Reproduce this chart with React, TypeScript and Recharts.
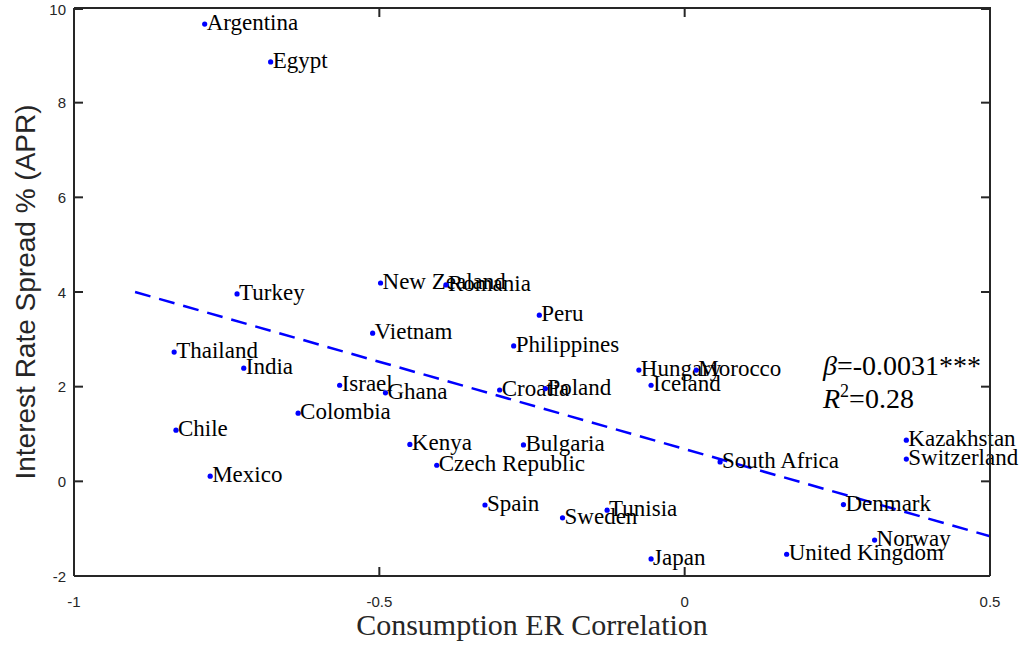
import { ScatterChart, Scatter, XAxis, YAxis } from "recharts";

const countries = [
  "Argentina", "Egypt", "Turkey", "New Zealand", "Romania", "Peru", "Vietnam", "Philippines",
  "Thailand", "India", "Israel", "Ghana", "Croatia", "Poland", "Hungary", "Morocco", "Iceland",
  "Colombia", "Chile", "Kenya", "Czech Republic", "Mexico", "Bulgaria", "South Africa",
  "Kazakhstan", "Switzerland", "Spain", "Sweden", "Tunisia", "Japan", "United Kingdom",
  "Denmark", "Norway",
];
const corr = [
  -0.786, -0.678, -0.733, -0.498, -0.391, -0.238, -0.511, -0.28,
  -0.836, -0.722, -0.565, -0.49, -0.303, -0.228, -0.075, 0.019, -0.055,
  -0.633, -0.833, -0.45, -0.406, -0.777, -0.264, 0.058,
  0.363, 0.363, -0.327, -0.2, -0.127, -0.055, 0.167,
  0.26, 0.311,
];
const spread = [
  9.66, 8.86, 3.96, 4.19, 4.15, 3.51, 3.13, 2.86,
  2.73, 2.39, 2.03, 1.87, 1.93, 1.96, 2.35, 2.35, 2.03,
  1.44, 1.08, 0.78, 0.34, 0.11, 0.77, 0.41,
  0.87, 0.47, -0.5, -0.77, -0.61, -1.64, -1.54,
  -0.49, -1.24,
];
// fitted line endpoints
const fitX = [-0.9, 0.5];
const fitY = [4.0, -1.16];

const xTicks = [-1, -0.5, 0, 0.5];
const yTicks = [-2, 0, 2, 4, 6, 8, 10];

const points = countries.map((name, i) => ({ name, x: corr[i], y: spread[i] }));
const fit = fitX.map((x, i) => ({ x, y: fitY[i] }));

// layout
const W = 1024, H = 646;
const M = { top: 8, right: 34, bottom: 0, left: 0 };
const yAxisW = 74, xAxisH = 70;
const plotL = M.left + yAxisW, plotR = W - M.right;
const plotT = M.top, plotB = H - M.bottom - xAxisH;
const tickLen = 9;

const axisColor = "#262626";
const sans = "Liberation Sans, Arial, sans-serif";
const serif = "Liberation Serif, Times New Roman, serif";

function XTick(props: any) {
  const { x, payload } = props;
  return (
    <g>
      <text x={x} y={plotB + 25} textAnchor="middle" dominantBaseline="central" fontSize={15} fontFamily={sans} fill={axisColor}>
        {String(payload.value)}
      </text>
      <line x1={x} x2={x} y1={plotB} y2={plotB - tickLen} stroke={axisColor} strokeWidth={2} />
      <line x1={x} x2={x} y1={plotT} y2={plotT + tickLen} stroke={axisColor} strokeWidth={2} />
    </g>
  );
}

function YTick(props: any) {
  const { y, payload } = props;
  return (
    <g>
      <text x={plotL - 8} y={y} textAnchor="end" dominantBaseline="central" fontSize={15} fontFamily={sans} fill={axisColor}>
        {String(payload.value)}
      </text>
      <line x1={plotL} x2={plotL + tickLen} y1={y} y2={y} stroke={axisColor} strokeWidth={2} />
      <line x1={plotR} x2={plotR - tickLen} y1={y} y2={y} stroke={axisColor} strokeWidth={2} />
    </g>
  );
}

function Dot(props: any) {
  const { cx, cy, payload } = props;
  return (
    <g>
      <circle cx={cx} cy={cy} r={2.6} fill="#0000ff" />
      <text x={cx + 2} y={cy + 6} fontSize={23} fontFamily={serif} fill="#000">
        {payload.name}
      </text>
    </g>
  );
}

function YLabel(props: any) {
  const vb = props.viewBox;
  const cx = vb.x + 25;
  const cy = vb.y + vb.height / 2;
  return (
    <text
      x={cx}
      y={cy}
      transform={`rotate(-90 ${cx} ${cy})`}
      textAnchor="middle"
      dominantBaseline="central"
      fontSize={28}
      fontFamily={sans}
      fill={axisColor}
    >
      Interest Rate Spread % (APR)
    </text>
  );
}

export default function App() {
  return (
    <div style={{ position: "absolute", left: 0, top: 0, width: W, height: H, background: "#fff" }}>
      <ScatterChart width={W} height={H} margin={M}>
        <XAxis
          type="number"
          dataKey="x"
          domain={[-1, 0.5]}
          ticks={xTicks}
          height={xAxisH}
          stroke={axisColor}
          strokeWidth={2}
          tickLine={false}
          tick={XTick}
          label={{
            value: "Consumption ER Correlation",
            position: "insideBottom",
            offset: 11,
            style: { fontSize: 30, fontFamily: serif, fill: axisColor },
          }}
        />
        <YAxis
          type="number"
          dataKey="y"
          domain={[-2, 10]}
          ticks={yTicks}
          width={yAxisW}
          stroke={axisColor}
          strokeWidth={2}
          tickLine={false}
          tick={YTick}
          label={{ content: YLabel }}
        />
        <Scatter
          data={fit}
          line={{ stroke: "#0000ff", strokeWidth: 2.5, strokeDasharray: "16 9" }}
          shape={() => <g />}
          isAnimationActive={false}
        />
        <Scatter data={points} shape={Dot} isAnimationActive={false} />
      </ScatterChart>
      <svg width={W} height={H} style={{ position: "absolute", left: 0, top: 0, pointerEvents: "none", zIndex: 5 }}>
        {/* top and right edges of the axes box */}
        <polyline
          points={`${plotL},${plotT} ${plotR},${plotT} ${plotR},${plotB}`}
          fill="none"
          stroke={axisColor}
          strokeWidth={2}
        />
        <text x={823} y={375} fontSize={28} fontFamily={serif} fill="#000">
          <tspan fontStyle="italic">β</tspan>=-0.0031***
        </text>
        <text x={823} y={408} fontSize={28} fontFamily={serif} fill="#000">
          <tspan fontStyle="italic">R</tspan>
          <tspan fontSize={18} dy={-11}>2</tspan>
          <tspan dy={11}>=0.28</tspan>
        </text>
      </svg>
    </div>
  );
}
